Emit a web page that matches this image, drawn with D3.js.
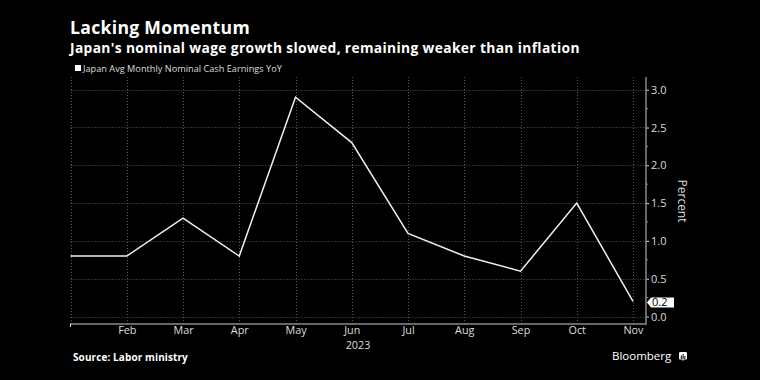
<!DOCTYPE html>
<html>
<head>
<meta charset="utf-8">
<script src="https://cdn.jsdelivr.net/npm/d3@7"></script>
<style>
  html, body { margin: 0; padding: 0; background: #000; }
  svg { display: block; }
  text { font-family: "Open Sans", "DejaVu Sans", sans-serif; }
</style>
</head>
<body>
<svg id="chart" width="760" height="380"></svg>
<script>
// ---- data ----
const months = ["Jan", "Feb", "Mar", "Apr", "May", "Jun", "Jul", "Aug", "Sep", "Oct", "Nov"];
const monthLabels = ["", "Feb", "Mar", "Apr", "May", "Jun", "Jul", "Aug", "Sep", "Oct", "Nov"];
const wageGrowth = [0.8, 0.8, 1.3, 0.8, 2.9, 2.3, 1.1, 0.8, 0.6, 1.5, 0.2];
const yTicks = [0.0, 0.5, 1.0, 1.5, 2.0, 2.5, 3.0];
const yearLabel = "2023";
const title = "Lacking Momentum";
const subtitle = "Japan's nominal wage growth slowed, remaining weaker than inflation";
const seriesName = "Japan Avg Monthly Nominal Cash Earnings YoY";
const yAxisTitle = "Percent";
const source = "Source: Labor ministry";

// ---- layout ----
const svg = d3.select("#chart");
const W = 760, H = 380;
svg.append("rect").attr("width", W).attr("height", H).attr("fill", "#000");

const plot = { left: 70.5, right: 646, top: 77, bottom: 324 };

const x = d3.scaleLinear().domain([0, months.length - 1]).range([70.5, 633]);
const y = d3.scaleLinear().domain([0, 3]).range([316.5, 89.7]);

// gridlines
const grid = svg.append("g");
grid.selectAll("line.h").data(yTicks).join("line")
  .attr("x1", plot.left).attr("x2", plot.right)
  .attr("y1", d => Math.round(y(d)) + 0.5).attr("y2", d => Math.round(y(d)) + 0.5)
  .attr("stroke", "#5a5a5a").attr("stroke-width", 1).attr("stroke-dasharray", "1,2");
grid.selectAll("line.v").data(months).join("line")
  .attr("x1", (d, i) => Math.round(x(i)) + 0.5).attr("x2", (d, i) => Math.round(x(i)) + 0.5)
  .attr("y1", plot.top).attr("y2", plot.bottom)
  .attr("stroke", "#5a5a5a").attr("stroke-width", 1).attr("stroke-dasharray", "1,2");

// line
const line = d3.line().x((d, i) => x(i)).y(d => y(d));
svg.append("path").datum(wageGrowth)
  .attr("d", line).attr("fill", "none")
  .attr("stroke", "#f0f0f0").attr("stroke-width", 1.5).attr("stroke-linejoin", "miter");

// bottom axis
const xAxis = d3.axisBottom(x)
  .tickValues(d3.range(months.length))
  .tickFormat(i => monthLabels[i])
  .tickSize(0).tickPadding(2.5);
const gx = svg.append("g").attr("transform", `translate(0,${plot.bottom})`).call(xAxis);
gx.select(".domain").remove();
gx.selectAll("text").attr("fill", "#dcdcdc").attr("font-size", 10.8);
svg.append("line").attr("x1", plot.left - 0.5).attr("x2", plot.right)
  .attr("y1", plot.bottom).attr("y2", plot.bottom)
  .attr("stroke", "#8a8a8a").attr("stroke-width", 1.5);
svg.append("line").attr("x1", plot.left).attr("x2", plot.left)
  .attr("y1", plot.bottom).attr("y2", plot.bottom + 3)
  .attr("stroke", "#dcdcdc").attr("stroke-width", 1);
svg.append("text").attr("x", 358).attr("y", 348.5).attr("text-anchor", "middle")
  .attr("fill", "#dcdcdc").attr("font-size", 10.8).text(yearLabel);

// right axis
const yAxis = d3.axisRight(y).tickValues(yTicks).tickFormat(d3.format(".1f"))
  .tickSize(3).tickPadding(2);
const gy = svg.append("g").attr("transform", `translate(${plot.right},0)`).call(yAxis);
gy.select(".domain").remove();
gy.selectAll("line").attr("stroke", "#dcdcdc");
gy.selectAll("text").attr("fill", "#dcdcdc").attr("font-size", 11);
const minor = d3.range(0.25, 3.2, 0.5);
svg.append("g").selectAll("line").data(minor).join("line")
  .attr("x1", plot.right).attr("x2", plot.right + 2)
  .attr("y1", d => y(d)).attr("y2", d => y(d))
  .attr("stroke", "#8a8a8a");
svg.append("line").attr("x1", plot.right).attr("x2", plot.right)
  .attr("y1", plot.top).attr("y2", plot.bottom + 0.75)
  .attr("stroke", "#8a8a8a").attr("stroke-width", 1.5);

svg.append("text")
  .attr("transform", `translate(678,201) rotate(90)`)
  .attr("text-anchor", "middle").attr("fill", "#dcdcdc").attr("font-size", 12)
  .text(yAxisTitle);

// last value label
const last = wageGrowth[wageGrowth.length - 1];
const ly = y(last) + 1;
const lab = svg.append("g").attr("transform", `translate(0,${ly})`);
lab.append("path")
  .attr("d", `M${plot.right + 1},0 L${plot.right + 5},-5 L${plot.right + 28},-5 L${plot.right + 28},5 L${plot.right + 5},5 Z`)
  .attr("fill", "#ffffff");
lab.append("text").attr("x", plot.right + 6).attr("y", 4)
  .attr("fill", "#000").attr("font-size", 11).text(d3.format(".1f")(last));

// titles
svg.append("text").attr("x", 70).attr("y", 33.5).attr("fill", "#ffffff")
  .attr("font-size", 17.6).attr("font-weight", "bold").attr("letter-spacing", 0.3).text(title);
svg.append("text").attr("x", 70).attr("y", 53).attr("fill", "#ffffff")
  .attr("font-size", 13.8).attr("font-weight", "bold").attr("letter-spacing", 0.35).text(subtitle);

// legend
svg.append("rect").attr("x", 75).attr("y", 65).attr("width", 6).attr("height", 6).attr("fill", "#ffffff");
svg.append("text").attr("x", 83).attr("y", 71.5).attr("fill", "#dcdcdc")
  .attr("font-size", 9.2).text(seriesName);

// footer
svg.append("text").attr("x", 73).attr("y", 361).attr("fill", "#ffffff")
  .attr("font-size", 10).attr("font-weight", "bold").attr("letter-spacing", 0.1).text(source);
svg.append("text").attr("x", 612).attr("y", 360).attr("fill", "#ffffff")
  .attr("font-size", 11.5).text("Bloomberg");
const logo = svg.append("g").attr("transform", "translate(679,352)");
logo.append("rect").attr("width", 8).attr("height", 7.5).attr("rx", 1.2).attr("fill", "#fff");
logo.append("path").attr("d", "M3,7.5 L4,9 L5,7.5 Z").attr("fill", "#fff");
[[1.8, 3.5, 3.5], [3.6, 2, 5], [5.4, 4, 3]].forEach(([bx, by, bh]) => {
  logo.append("rect").attr("x", bx).attr("y", by).attr("width", 1).attr("height", bh).attr("fill", "#000");
});
</script>
</body>
</html>
